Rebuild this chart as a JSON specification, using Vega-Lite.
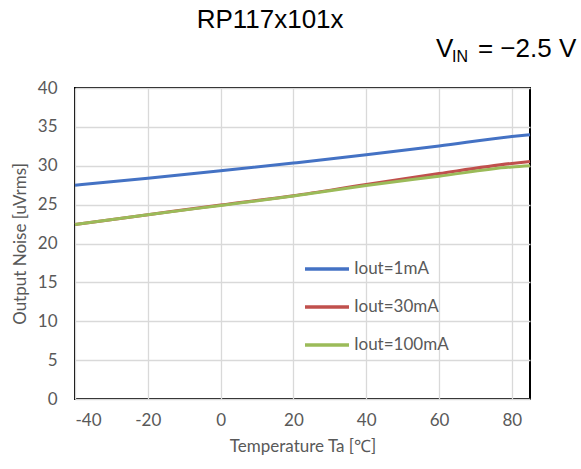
{
  "$schema": "https://vega.github.io/schema/vega-lite/v6.json",
  "width": 455,
  "height": 311,
  "autosize": {"type": "none"},
  "padding": {"left": 75, "top": 88, "right": 51, "bottom": 70},
  "background": "white",
  "config": {
    "view": {"stroke": "#000000", "strokeWidth": 2},
    "axis": {
      "labelFont": "Lato", "labelFontSize": 17, "labelColor": "#595959", "labelOverlap": false,
      "titleFont": "Lato", "titleFontSize": 17, "titleColor": "#595959", "titleFontWeight": "normal",
      "gridColor": "#D9D9D9", "gridWidth": 1.3, "domain": false, "ticks": false
    }
  },
  "datasets": {
    "noise": [
      {"t": -40, "v": 27.5, "s": "Iout=1mA"},
      {"t": -20, "v": 28.4, "s": "Iout=1mA"},
      {"t": 0, "v": 29.35, "s": "Iout=1mA"},
      {"t": 20, "v": 30.35, "s": "Iout=1mA"},
      {"t": 40, "v": 31.4, "s": "Iout=1mA"},
      {"t": 60, "v": 32.55, "s": "Iout=1mA"},
      {"t": 80, "v": 33.75, "s": "Iout=1mA"},
      {"t": 85, "v": 34.0, "s": "Iout=1mA"},
      {"t": -40, "v": 22.45, "s": "Iout=30mA"},
      {"t": -20, "v": 23.7, "s": "Iout=30mA"},
      {"t": 0, "v": 24.95, "s": "Iout=30mA"},
      {"t": 20, "v": 26.15, "s": "Iout=30mA"},
      {"t": 40, "v": 27.6, "s": "Iout=30mA"},
      {"t": 60, "v": 29.0, "s": "Iout=30mA"},
      {"t": 80, "v": 30.3, "s": "Iout=30mA"},
      {"t": 85, "v": 30.55, "s": "Iout=30mA"},
      {"t": -40, "v": 22.45, "s": "Iout=100mA"},
      {"t": -20, "v": 23.7, "s": "Iout=100mA"},
      {"t": 0, "v": 24.9, "s": "Iout=100mA"},
      {"t": 20, "v": 26.1, "s": "Iout=100mA"},
      {"t": 40, "v": 27.45, "s": "Iout=100mA"},
      {"t": 60, "v": 28.65, "s": "Iout=100mA"},
      {"t": 80, "v": 29.85, "s": "Iout=100mA"},
      {"t": 85, "v": 30.0, "s": "Iout=100mA"}
    ],
    "notes": [
      {"t": 13.6, "v": 47.7, "txt": "RP117x101x"}
    ]
  },
  "encoding": {
    "x": {
      "field": "t", "type": "quantitative",
      "scale": {"domain": [-40, 85], "nice": false, "zero": false},
      "axis": {"values": [-40, -20, 0, 20, 40, 60, 80], "labelExpr": "(datum.value < 0 ? '-' : '') + abs(datum.value)", "title": "Temperature Ta [℃]", "labelPadding": 13, "titlePadding": 10}
    },
    "y": {
      "field": "v", "type": "quantitative",
      "scale": {"domain": [0, 40], "nice": false},
      "axis": {"values": [0, 5, 10, 15, 20, 25, 30, 35, 40], "title": "Output Noise [uVrms]", "labelPadding": 18, "titlePadding": 8}
    }
  },
  "layer": [
    {
      "data": {"name": "noise"},
      "mark": {"type": "line", "strokeWidth": 3, "interpolate": "monotone"},
      "encoding": {
        "color": {
          "field": "s", "type": "nominal",
          "scale": {"domain": ["Iout=1mA", "Iout=30mA", "Iout=100mA"], "range": ["#4472C4", "#C0504D", "#9BBB59"]},
          "legend": {
            "title": null, "orient": "none", "legendX": 228, "legendY": 157,
            "symbolType": "stroke", "symbolSize": 1936, "symbolStrokeWidth": 3.5,
            "labelFont": "Lato", "labelFontSize": 17, "labelColor": "#595959",
            "labelOffset": 3, "rowPadding": 6
          }
        }
      }
    },
    {
      "data": {"name": "notes"},
      "mark": {"type": "text", "font": "Liberation Sans", "fontSize": 26, "color": "#000000", "align": "center", "baseline": "alphabetic", "clip": false},
      "encoding": {"text": {"field": "txt"}}
    },
    {
      "data": {"values": [{"t": 59.2, "v": 44.0, "txt": "V"}]},
      "mark": {"type": "text", "font": "Liberation Sans", "fontSize": 26, "color": "#000000", "align": "left", "baseline": "alphabetic", "clip": false},
      "encoding": {"text": {"field": "txt"}}
    },
    {
      "data": {"values": [{"t": 63.6, "v": 43.4, "txt": "IN"}]},
      "mark": {"type": "text", "font": "Liberation Sans", "fontSize": 16, "color": "#000000", "align": "left", "baseline": "alphabetic", "clip": false},
      "encoding": {"text": {"field": "txt"}}
    },
    {
      "data": {"values": [{"t": 70.7, "v": 44.0, "txt": "= −2.5 V"}]},
      "mark": {"type": "text", "font": "Liberation Sans", "fontSize": 26, "color": "#000000", "align": "left", "baseline": "alphabetic", "clip": false},
      "encoding": {"text": {"field": "txt"}}
    }
  ]
}
